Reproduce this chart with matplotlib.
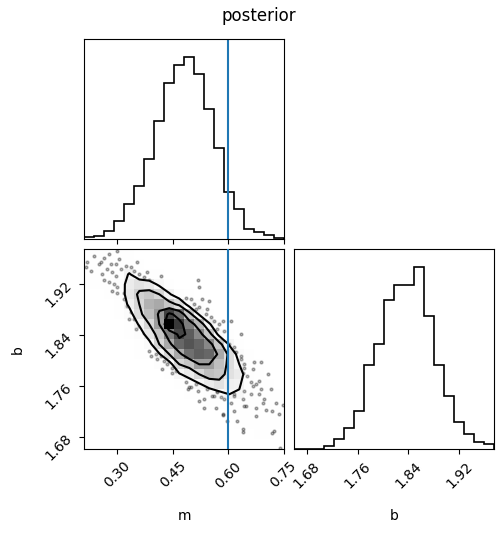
import numpy as np
import matplotlib
matplotlib.use("Agg")
import matplotlib.pyplot as plt
from matplotlib.colors import LinearSegmentedColormap

m_range = (0.2105, 0.752)
b_range = (1.6605, 1.975)
m_truth = 0.60

m_ticks = [0.30, 0.45, 0.60, 0.75]
b_ticks = [1.68, 1.76, 1.84, 1.92]

# Marginal histograms, 20 bins each (relative counts)
m_counts = [6, 9, 24, 54, 106, 160, 241, 358, 470, 526,
            548, 497, 392, 274, 144, 90, 30, 21, 12, 5]
b_counts = [0, 0, 0, 11, 30, 63, 114, 252, 315, 447,
            492, 492, 546, 399, 252, 161, 83, 47, 23, 17]

# 2D histogram m vs b, 20x20, rows listed from top (high b) to bottom
H_rows = [
    [1, 2, 2, 2, 1, 0, 0, 0, 0, 0, 0, 0, 0, 0, 0, 0, 0, 0, 0, 0],
    [2, 3, 5, 5, 4, 2, 0, 0, 0, 0, 0, 0, 0, 0, 0, 0, 0, 0, 0, 0],
    [3, 4, 5, 6, 22, 5, 2, 1, 0, 0, 0, 0, 0, 0, 0, 0, 0, 0, 0, 0],
    [1, 3, 6, 10, 28, 34, 30, 16, 6, 0, 0, 0, 0, 0, 0, 0, 0, 0, 0, 0],
    [0, 0, 2, 8, 30, 43, 47, 40, 22, 8, 3, 0, 0, 0, 0, 0, 0, 0, 0, 0],
    [0, 0, 0, 5, 24, 40, 55, 58, 47, 36, 12, 4, 0, 0, 0, 0, 0, 0, 0, 0],
    [0, 0, 0, 2, 12, 36, 50, 64, 86, 75, 47, 18, 5, 0, 0, 0, 0, 0, 0, 0],
    [0, 0, 0, 0, 6, 22, 40, 62, 100, 88, 71, 53, 22, 6, 0, 0, 0, 0, 0, 0],
    [0, 0, 0, 0, 2, 10, 30, 47, 71, 85, 80, 68, 47, 14, 4, 0, 0, 0, 0, 0],
    [0, 0, 0, 0, 0, 5, 14, 40, 58, 77, 82, 78, 68, 47, 18, 5, 0, 0, 0, 0],
    [0, 0, 0, 0, 0, 2, 6, 18, 40, 58, 75, 79, 77, 58, 36, 12, 4, 0, 0, 0],
    [0, 0, 0, 0, 0, 0, 0, 8, 12, 40, 47, 62, 62, 50, 36, 20, 5, 2, 0, 0],
    [0, 0, 0, 0, 0, 0, 0, 0, 6, 18, 28, 40, 50, 47, 34, 28, 8, 3, 0, 0],
    [0, 0, 0, 0, 0, 0, 0, 0, 0, 6, 8, 18, 28, 34, 24, 22, 8, 5, 2, 0],
    [0, 0, 0, 0, 0, 0, 0, 0, 0, 0, 2, 5, 8, 14, 20, 18, 8, 5, 3, 2],
    [0, 0, 0, 0, 0, 0, 0, 0, 0, 0, 0, 0, 2, 4, 6, 6, 5, 4, 3, 2],
    [0, 0, 0, 0, 0, 0, 0, 0, 0, 0, 0, 0, 0, 0, 2, 3, 3, 2, 2, 1],
    [0, 0, 0, 0, 0, 0, 0, 0, 0, 0, 0, 0, 0, 0, 0, 1, 1, 1, 1, 1],
    [0, 0, 0, 0, 0, 0, 0, 0, 0, 0, 0, 0, 0, 0, 0, 0, 0, 1, 1, 0],
    [0, 0, 0, 0, 0, 0, 0, 0, 0, 0, 0, 0, 0, 0, 0, 0, 0, 0, 0, 0],
]

# Samples visible outside the outer contour
halo_m = [0.219, 0.228, 0.250, 0.255, 0.277, 0.300, 0.304, 0.296, 0.282, 0.273,
          0.259, 0.264, 0.286, 0.296, 0.309, 0.323, 0.336, 0.345, 0.359, 0.372,
          0.386, 0.399, 0.354, 0.277, 0.291, 0.300, 0.300, 0.286, 0.318, 0.327,
          0.336, 0.345, 0.359, 0.372, 0.390, 0.404, 0.332, 0.350, 0.318, 0.237,
          0.264, 0.381, 0.418, 0.214,
          0.521, 0.517, 0.530, 0.548, 0.499, 0.485, 0.521, 0.544, 0.540, 0.553,
          0.562, 0.576, 0.585, 0.607, 0.589, 0.634, 0.512, 0.508, 0.571, 0.603,
          0.616,
          0.616, 0.634, 0.643, 0.639, 0.652, 0.666, 0.662, 0.675, 0.689, 0.707,
          0.716, 0.689, 0.662, 0.639, 0.643, 0.675, 0.675, 0.698, 0.702, 0.720,
          0.729, 0.738, 0.725, 0.639, 0.625, 0.616, 0.607, 0.589, 0.571, 0.557,
          0.535, 0.535, 0.521, 0.499, 0.490, 0.512, 0.585, 0.598, 0.580, 0.567,
          0.616,
          0.386, 0.404, 0.418, 0.427, 0.435, 0.449, 0.422, 0.449, 0.408, 0.390,
          0.440, 0.458,
          0.621, 0.612, 0.634, 0.643, 0.670, 0.684, 0.666, 0.643, 0.616, 0.603,
          0.571, 0.544, 0.517, 0.494, 0.485, 0.562, 0.684, 0.693, 0.648,
          0.748, 0.741, 0.719, 0.641, 0.587]
halo_b = [1.955, 1.941, 1.952, 1.955, 1.968, 1.973, 1.960, 1.952, 1.952, 1.944,
          1.936, 1.926, 1.939, 1.933, 1.944, 1.949, 1.947, 1.941, 1.936, 1.931,
          1.926, 1.918, 1.955, 1.923, 1.920, 1.915, 1.907, 1.910, 1.897, 1.886,
          1.876, 1.865, 1.855, 1.844, 1.836, 1.826, 1.865, 1.849, 1.907, 1.965,
          1.962, 1.939, 1.933, 1.947,
          1.915, 1.926, 1.897, 1.894, 1.897, 1.899, 1.884, 1.881, 1.873, 1.868,
          1.863, 1.857, 1.863, 1.863, 1.847, 1.842, 1.881, 1.889, 1.849, 1.826,
          1.821,
          1.813, 1.807, 1.794, 1.781, 1.776, 1.786, 1.766, 1.763, 1.797, 1.779,
          1.755, 1.755, 1.747, 1.739, 1.729, 1.726, 1.713, 1.739, 1.723, 1.721,
          1.734, 1.716, 1.689, 1.692, 1.705, 1.721, 1.734, 1.739, 1.750, 1.744,
          1.739, 1.726, 1.737, 1.758, 1.755, 1.763, 1.716, 1.705, 1.742, 1.726,
          1.744,
          1.815, 1.810, 1.807, 1.800, 1.794, 1.789, 1.786, 1.781, 1.802, 1.807,
          1.800, 1.784,
          1.813, 1.805, 1.802, 1.789, 1.797, 1.768, 1.760, 1.752, 1.747, 1.755,
          1.752, 1.755, 1.752, 1.758, 1.766, 1.744, 1.747, 1.734, 1.729,
          1.730, 1.662, 1.686, 1.688, 1.714]

truth_color = "#1f77b4"

W, Hpx = 504, 533
fig = plt.figure(figsize=(W / 100, Hpx / 100), dpi=100)


def add_axes(left, top, size=200):
    return fig.add_axes([left / W, (Hpx - top - size) / Hpx, size / W, size / Hpx])


ax_m = add_axes(84.3, 39.3)
ax_2d = add_axes(84.3, 249.3)
ax_b = add_axes(294.3, 249.3)

m_edges = np.linspace(m_range[0], m_range[1], 21)
b_edges = np.linspace(b_range[0], b_range[1], 21)

# --- marginal of m
ax_m.stairs(m_counts, m_edges, color="k", lw=1.2)
ax_m.axvline(m_truth, color=truth_color, lw=1.5)
ax_m.set_xlim(m_range)
ax_m.set_ylim(0, 1.1 * max(m_counts))
ax_m.set_yticks([])
ax_m.set_xticks(m_ticks)
ax_m.tick_params(labelbottom=False)

# --- marginal of b
ax_b.stairs(b_counts, b_edges, color="k", lw=1.2)
ax_b.set_xlim(b_range)
ax_b.set_ylim(0, 1.1 * max(b_counts))
ax_b.set_yticks([])
ax_b.set_xticks(b_ticks)
for lab in ax_b.get_xticklabels():
    lab.set_rotation(45)
ax_b.set_xlabel("b")
ax_b.xaxis.set_label_coords(0.5, -0.3)

# --- 2d panel (corner style)
C = np.array(H_rows, dtype=float)[::-1]   # row 0 = lowest b

# 0.5, 1, 1.5, 2 sigma mass levels
levels = 1.0 - np.exp(-0.5 * np.arange(0.5, 2.1, 0.5) ** 2)
Hflat = np.sort(C.flatten())[::-1]
sm = np.cumsum(Hflat)
sm /= sm[-1]
V = np.array([Hflat[sm <= v0][-1] if np.any(sm <= v0) else Hflat[0] for v0 in levels])
V.sort()

xc = 0.5 * (m_edges[1:] + m_edges[:-1])
yc = 0.5 * (b_edges[1:] + b_edges[:-1])
dx, dy = xc[1] - xc[0], yc[1] - yc[0]
X2 = np.concatenate([xc[0] + np.array([-2, -1]) * dx, xc, xc[-1] + np.array([1, 2]) * dx])
Y2 = np.concatenate([yc[0] + np.array([-2, -1]) * dy, yc, yc[-1] + np.array([1, 2]) * dy])
H2 = np.pad(np.pad(C, 1, mode="edge"), 1, mode="constant", constant_values=C.min())

ax_2d.plot(halo_m, halo_b, "o", color="k", ms=2, alpha=0.3, zorder=-1)
ax_2d.contourf(X2, Y2, H2, [V.min(), C.max()], colors=["white"], antialiased=False, zorder=0)
density_cmap = LinearSegmentedColormap.from_list("density", ["k", (1, 1, 1, 0)])
ax_2d.pcolormesh(m_edges, b_edges, C.max() - C, cmap=density_cmap, zorder=1)
ax_2d.contour(X2, Y2, H2, V, colors="k", linewidths=1.5, zorder=2)
ax_2d.axvline(m_truth, color=truth_color, lw=1.5, zorder=3)
ax_2d.set_xlim(m_range)
ax_2d.set_ylim(b_range)
ax_2d.set_xticks(m_ticks)
ax_2d.set_yticks(b_ticks)
for lab in ax_2d.get_xticklabels() + ax_2d.get_yticklabels():
    lab.set_rotation(45)
ax_2d.set_xlabel("m")
ax_2d.set_ylabel("b")
ax_2d.xaxis.set_label_coords(0.5, -0.3)
ax_2d.yaxis.set_label_coords(-0.3, 0.5)

fig.text(258.8 / W, 1 - 16 / Hpx, "posterior", ha="center", va="center", fontsize=12)

fig.savefig("out.png", dpi=100)
